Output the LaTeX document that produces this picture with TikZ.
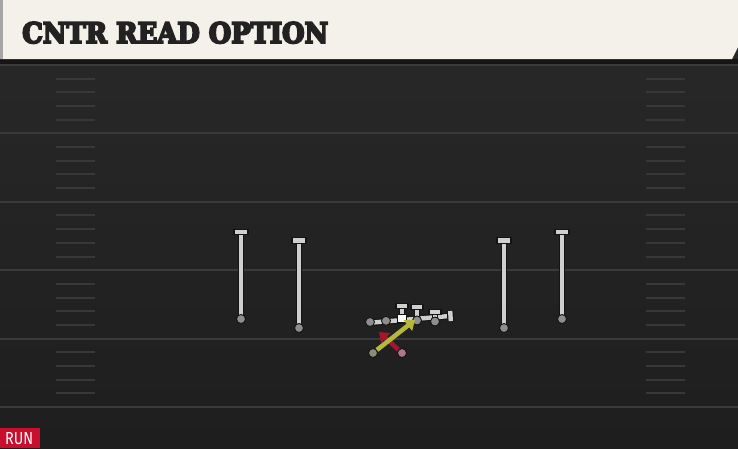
\documentclass[tikz,border=0pt]{standalone}
\usepackage{fontspec}
\setmainfont{Liberation Sans}
\newfontfamily\titlefont{DejaVu Serif}[BoldFeatures={FakeBold=7}]
\newfontfamily\runfont{Fira Sans}
\usetikzlibrary{arrows.meta}
\definecolor{cream}{HTML}{F4F1EA}
\definecolor{fieldtop}{HTML}{292929}
\definecolor{fieldbot}{HTML}{1E1E1E}
\definecolor{shadowband}{HTML}{151515}
\definecolor{yardline}{HTML}{3A3A3A}
\definecolor{hashc}{HTML}{383838}
\definecolor{routegray}{HTML}{CFCFCF}
\definecolor{playergray}{HTML}{8E8E8E}
\definecolor{outlinec}{HTML}{141414}
\definecolor{optyellow}{HTML}{B6B83C}
\definecolor{optred}{HTML}{A3162F}
\definecolor{runred}{HTML}{C8102E}
\definecolor{titleink}{HTML}{222222}
\definecolor{rbpink}{HTML}{B07884}
\definecolor{qbgray}{HTML}{8C8C78}
\tikzset{
  routeline/.style={draw=outlinec, line width=1.2pt, double=routegray, double distance=4.4pt},
  tbar/.style={rectangle, draw=outlinec, line width=1.1pt, fill=routegray, minimum width=14pt, minimum height=5.5pt, inner sep=0pt},
  pcirc/.style={circle, draw=outlinec, line width=0.9pt, fill=playergray, minimum size=9pt, inner sep=0pt},
  csquare/.style={rectangle, draw=outlinec, line width=0.9pt, fill=white, minimum size=8.5pt, inner sep=0pt},
  hashmark/.style={draw=hashc, line width=2pt},
  yardmark/.style={draw=yardline, line width=2pt},
  optarrow/.style={line width=4.5pt, -{Triangle[length=9pt,width=13pt]}},
}
\begin{document}
\begin{tikzpicture}[x=1pt,y=-1pt]
\useasboundingbox (0,0) rectangle (738,448);
% field
\shade[top color=fieldtop, bottom color=fieldbot] (0,0) rectangle (738,448);
\fill[shadowband] (0,59) rectangle (738,65);
% yard lines
\foreach \k in {0,...,5}{
  \draw[yardmark] (0,{65+68.4*\k}) -- (738,{65+68.4*\k});
}
% hash marks
\foreach \k in {0,...,4}{
  \foreach \j in {1,...,4}{
    \draw[hashmark] (56,{65+68.4*\k+13.68*\j}) -- (95,{65+68.4*\k+13.68*\j});
    \draw[hashmark] (646,{65+68.4*\k+13.68*\j}) -- (685,{65+68.4*\k+13.68*\j});
  }
}
% banner
\fill[cream] (0,0) -- (738,0) -- (738,47) -- (732,59) -- (0,59) -- cycle;
\fill[gray!70] (0,0) rectangle (3,59);
\node[anchor=base west, inner sep=0pt, text=titleink] (title) at (22,43)
  {\resizebox{306pt}{21pt}{\titlefont\bfseries CNTR READ OPTION}};
% RUN tag
\fill[runred] (0,428) rectangle (40,448);
\node[anchor=base west, inner sep=0pt, text=white] (run) at (5,444.5)
  {\resizebox{28pt}{12pt}{\runfont RUN}};
% receivers
\coordinate (r1b) at (241,319); \coordinate (r1t) at (241,232);
\coordinate (r2b) at (299,328); \coordinate (r2t) at (299,240.5);
\coordinate (r3b) at (504,328); \coordinate (r3t) at (504,240.5);
\coordinate (r4b) at (562,319); \coordinate (r4t) at (562,232);
\foreach \r in {r1,r2,r3,r4}{
  \draw[routeline] (\r b) -- (\r t);
  \node[tbar] (\r T) at (\r t) {};
  \node[pcirc] (\r P) at (\r b) {};
}
% offensive line cluster
\coordinate (olL) at (367,323);
\coordinate (olR) at (449.5,316);
\coordinate (olRa) at (450.2,311);
\coordinate (olRb) at (450.8,321);
\coordinate (s1) at (402,318.5); \coordinate (s1t) at (402,306);
\coordinate (s2) at (417,320.5); \coordinate (s2t) at (417,307);
\coordinate (s3) at (435,321.5); \coordinate (s3t) at (435,312);
\draw[routeline] (olL) -- (olR);
\draw[routeline] (olRa) -- (olRb);
\draw[routeline] (s1) -- (s1t);
\draw[routeline] (s2) -- (s2t);
\draw[routeline] (s3) -- (s3t);
\node[tbar, minimum width=12pt] (T1) at (s1t) {};
\node[tbar, minimum width=12pt] (T2) at (s2t) {};
\node[tbar, minimum width=12pt] (T3) at (s3t) {};
\node[pcirc] (p1) at (370,322) {};
\node[pcirc] (p2) at (386,320.8) {};
\node[csquare] (c) at (s1) {};
\node[pcirc] (p4) at (s2) {};
\node[pcirc] (p5) at (s3) {};
% option arrows
\node[pcirc, fill=rbpink] (rb) at (402,353) {};
\node[pcirc, fill=qbgray] (qb) at (373,353) {};
\coordinate (redtip) at (379,332);
\coordinate (yeltip) at (415,320);
\draw[optred, optarrow] (rb) -- (redtip);
\draw[optyellow, optarrow] (qb) -- (yeltip);
\end{tikzpicture}
\end{document}
